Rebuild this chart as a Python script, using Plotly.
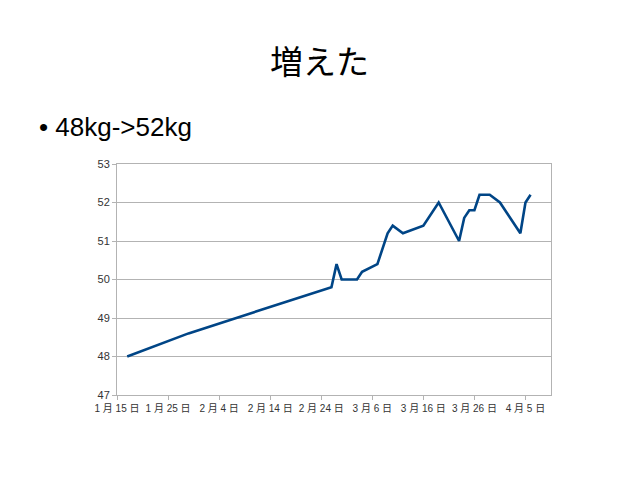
import plotly.graph_objects as go

# 体重の記録 (kg)
dates = ["2013-01-17", "2013-01-29", "2013-02-26", "2013-02-27", "2013-02-28",
         "2013-03-03", "2013-03-04", "2013-03-07", "2013-03-09", "2013-03-10",
         "2013-03-12", "2013-03-16", "2013-03-19", "2013-03-23", "2013-03-24",
         "2013-03-25", "2013-03-26", "2013-03-27", "2013-03-29", "2013-03-31",
         "2013-04-04", "2013-04-05", "2013-04-06"]
weights = [48.0, 48.6, 49.8, 50.4, 50.0,
           50.0, 50.2, 50.4, 51.2, 51.4,
           51.2, 51.4, 52.0, 51.0, 51.6,
           51.8, 51.8, 52.2, 52.2, 52.0,
           51.2, 52.0, 52.2]

tick_dates = ["2013-01-15", "2013-01-25", "2013-02-04", "2013-02-14", "2013-02-24",
              "2013-03-06", "2013-03-16", "2013-03-26", "2013-04-05"]
tick_labels = ["1 月 15 日", "1 月 25 日", "2 月 4 日", "2 月 14 日", "2 月 24 日",
               "3 月 6 日", "3 月 16 日", "3 月 26 日", "4 月 5 日"]

fig = go.Figure(go.Scatter(x=dates, y=weights, mode="lines",
                           line=dict(color="#004586", width=2.6)))

# ページの余白 (8px) を考慮して余白を調整
fig.update_layout(
    width=638, height=479,
    paper_bgcolor="white", plot_bgcolor="white",
    margin=dict(l=109, r=95, t=156, b=92),
    showlegend=False,
    font=dict(family="Liberation Sans, Noto Sans CJK JP", color="#333333"),
)

fig.update_xaxes(
    range=["2013-01-15", "2013-04-10"],
    tickvals=tick_dates, ticktext=tick_labels,
    tickfont=dict(size=10, family="Liberation Sans, Noto Sans CJK JP"),
    showgrid=False, showline=True, linecolor="#b3b3b3", mirror=True,
    ticks="outside", ticklen=4, tickcolor="#b3b3b3",
)
fig.update_yaxes(
    range=[47, 53], dtick=1,
    tickfont=dict(size=11),
    showgrid=True, gridcolor="#b3b3b3",
    showline=True, linecolor="#b3b3b3", mirror=True,
    ticks="outside", ticklen=4, tickcolor="#b3b3b3",
    zeroline=False,
)

fig.add_annotation(text="増えた", xref="paper", yref="paper",
                   x=0, y=1, xanchor="center", yanchor="middle",
                   xshift=311 - 109, yshift=156 - 52,
                   showarrow=False,
                   font=dict(size=33, color="black", family="Noto Sans CJK JP"))
fig.add_annotation(text="• 48kg->52kg", xref="paper", yref="paper",
                   x=0, y=1, xanchor="left", yanchor="middle",
                   xshift=29 - 109, yshift=156 - 119,
                   showarrow=False,
                   font=dict(size=26, color="black", family="Liberation Sans"))

fig.write_html("out.html")
